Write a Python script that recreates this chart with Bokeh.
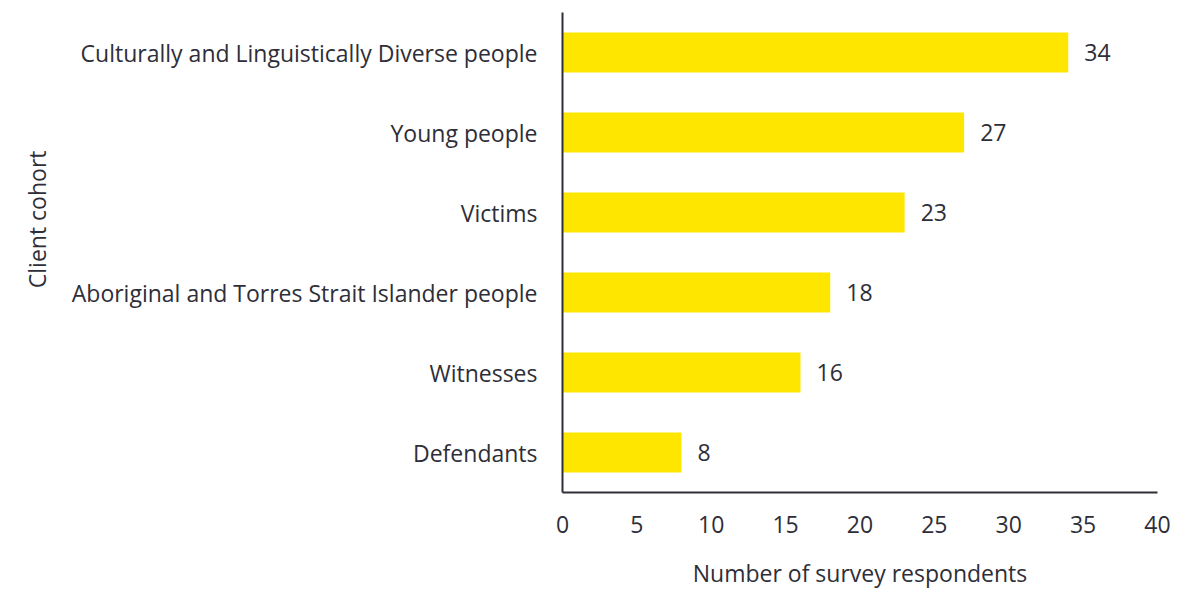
from bokeh.plotting import figure
from bokeh.models import ColumnDataSource, FactorRange, Range1d, FixedTicker, Title
from bokeh.embed import file_html
from bokeh.resources import INLINE
from bokeh.core.properties import value

cohorts = ["Culturally and Linguistically Diverse people", "Young people", "Victims",
           "Aboriginal and Torres Strait Islander people", "Witnesses", "Defendants"]
counts = [34, 27, 23, 18, 16, 8]
x_ticks = [0, 5, 10, 15, 20, 25, 30, 35, 40]

FONT = "Open Sans"
FS = "23px"
TXT = "#2e2e38"

src = ColumnDataSource(dict(cohort=cohorts, count=counts, lbl=[str(c) for c in counts]))

p = figure(width=1180, height=591, output_backend="svg", toolbar_location=None,
           y_range=FactorRange(factors=list(reversed(cohorts)), range_padding=0),
           x_range=Range1d(0, 40),
           min_border_left=562, min_border_right=23, min_border_top=12, min_border_bottom=98)
p.hbar(y="cohort", right="count", height=0.5, left=0, source=src, color="#FFE600", line_color=None)
p.text(x="count", y="cohort", text="lbl", source=src, x_offset=16, text_align="left",
       text_baseline="middle", text_font=value(FONT), text_font_size=FS, text_color=TXT)

p.outline_line_color = None
p.grid.visible = False
for ax in (p.xaxis[0], p.yaxis[0]):
    ax.axis_line_color = TXT
    ax.axis_line_width = 2
    ax.major_tick_line_color = None
    ax.minor_tick_line_color = None
    ax.major_label_text_font = FONT
    ax.major_label_text_font_size = FS
    ax.major_label_text_color = TXT
    ax.axis_label_text_font = FONT
    ax.axis_label_text_font_size = FS
    ax.axis_label_text_color = TXT
    ax.axis_label_text_font_style = "normal"

p.xaxis.ticker = FixedTicker(ticks=x_ticks)
p.xaxis.major_label_standoff = 17
p.xaxis.axis_label = "Number of survey respondents"
p.xaxis.axis_label_standoff = 21
p.yaxis.major_label_standoff = 19

ytitle = Title(text="Client cohort", align="right", offset=138, standoff=32,
               text_font=FONT, text_font_size=FS, text_color=TXT, text_font_style="normal")
p.add_layout(ytitle, "left")

open("out.html", "w").write(file_html(p, INLINE))
